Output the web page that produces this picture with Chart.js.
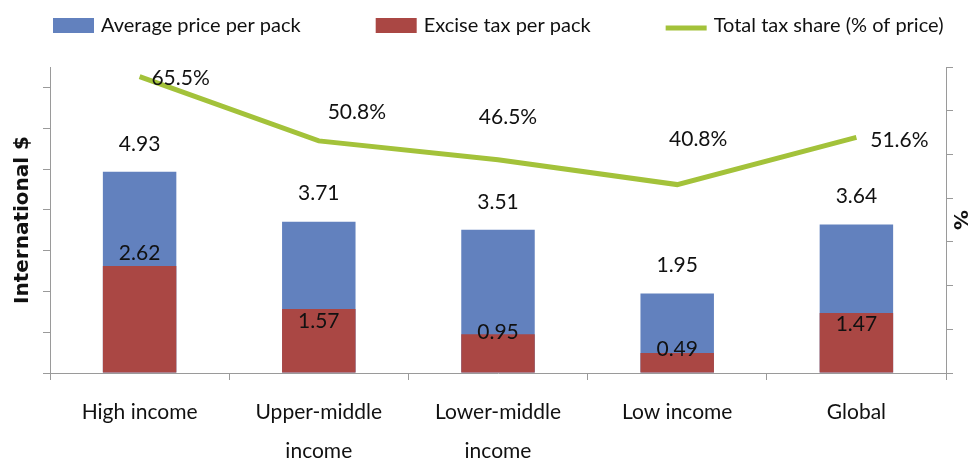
<!DOCTYPE html>
<html>
<head>
<meta charset="utf-8">
<script src="https://cdn.jsdelivr.net/npm/chart.js@4.4.1/dist/chart.umd.min.js"></script>
<style>
  html, body { margin: 0; padding: 0; background: #fff; }
  #wrap { width: 971px; height: 463px; position: relative; }
</style>
</head>
<body>
<div id="wrap"><canvas id="myChart"></canvas></div>
<script>
// data
const categories = [["High income"], ["Upper-middle", "income"], ["Lower-middle", "income"], ["Low income"], ["Global"]];
const avgPrice = [4.93, 3.71, 3.51, 1.95, 3.64];
const exciseTax = [2.62, 1.57, 0.95, 0.49, 1.47];
const taxShare = [65.5, 50.8, 46.5, 40.8, 51.6];

const narrow = 'Lato, "Liberation Sans", sans-serif';
const axisGray = "#9a9a9a";

// hand placed label nudges, like in the original sheet
const redShift = [-13, 12, -2, -4, 11];
const lineShift = [[41, 2], [38, -29], [10, -42], [21, -45], [43, 3]];

const data = {
  labels: categories,
  datasets: [
    {
      type: "line",
      label: "Total tax share (% of price)",
      data: taxShare,
      yAxisID: "y1",
      borderColor: "#a3c23a",
      backgroundColor: "#a3c23a",
      borderWidth: 5,
      pointRadius: 0,
      tension: 0,
      order: 1,
    },
    {
      type: "bar",
      label: "Average price per pack",
      data: avgPrice,
      backgroundColor: "#6281be",
      grouped: false,
      barPercentage: 1,
      categoryPercentage: 0.41,
      order: 3,
    },
    {
      type: "bar",
      label: "Excise tax per pack",
      data: exciseTax,
      backgroundColor: "#aa4744",
      grouped: false,
      barPercentage: 1,
      categoryPercentage: 0.41,
      order: 2,
    },
  ],
};

// value labels
const valueLabels = {
  id: "valueLabels",
  afterDatasetsDraw(chart) {
    const ctx = chart.ctx;
    ctx.save();
    ctx.font = "21px " + narrow;
    ctx.fillStyle = "#111";
    ctx.textAlign = "center";
    ctx.textBaseline = "middle";
    chart.getDatasetMeta(1).data.forEach((bar, i) => {
      ctx.fillText(avgPrice[i].toFixed(2), bar.x, bar.y - 28);
    });
    chart.getDatasetMeta(2).data.forEach((bar, i) => {
      ctx.fillText(exciseTax[i].toFixed(2), bar.x, bar.y + redShift[i]);
    });
    chart.getDatasetMeta(0).data.forEach((pt, i) => {
      ctx.fillText(taxShare[i].toFixed(1) + "%", pt.x + lineShift[i][0], pt.y + lineShift[i][1]);
    });
    ctx.restore();
  },
};

// legend across the top
const topLegend = {
  id: "topLegend",
  afterDraw(chart) {
    const ctx = chart.ctx;
    const order = [1, 2, 0];
    let x = 53;
    const y = 26;
    ctx.save();
    ctx.font = "20px " + narrow;
    ctx.textBaseline = "middle";
    ctx.textAlign = "left";
    order.forEach((di) => {
      const ds = chart.data.datasets[di];
      if (ds.type === "line") {
        ctx.strokeStyle = ds.borderColor;
        ctx.lineWidth = 5;
        ctx.beginPath();
        ctx.moveTo(x, y + 2);
        ctx.lineTo(x + 41, y + 2);
        ctx.stroke();
      } else {
        ctx.fillStyle = ds.backgroundColor;
        ctx.fillRect(x, y - 8, 41, 15);
      }
      ctx.fillStyle = "#111";
      ctx.fillText(ds.label, x + 48, y);
      x += 48 + ctx.measureText(ds.label).width + 75;
    });
    ctx.restore();
  },
};

const config = {
  data,
  options: {
    responsive: true,
    maintainAspectRatio: false,
    animation: false,
    layout: { padding: { top: 67, left: 0, right: 0, bottom: 0 } },
    plugins: {
      legend: { display: false },
      tooltip: { enabled: false },
    },
    scales: {
      x: {
        offset: true,
        grid: {
          display: true,
          offset: true,
          drawOnChartArea: false,
          tickLength: 7,
          color: axisGray,
        },
        border: { color: axisGray },
        ticks: {
          color: "#111",
          padding: 13,
          font: { family: narrow, size: 21, lineHeight: 1.86 },
        },
        afterFit(axis) {
          axis.height = 90;
        },
      },
      y: {
        position: "left",
        min: 0,
        max: 7.5,
        ticks: { display: false, stepSize: 1, includeBounds: false },
        grid: { drawOnChartArea: false, tickLength: 7, color: axisGray },
        border: { color: axisGray },
        title: {
          display: true,
          text: "International $",
          color: "#111",
          font: { family: '"DejaVu Sans", sans-serif', size: 20, weight: "bold" },
          padding: { top: 11, bottom: 0 },
        },
        afterFit(axis) {
          axis.width = 50;
        },
      },
      y1: {
        position: "right",
        min: -2.3,
        max: 67.7,
        ticks: { display: false },
        afterBuildTicks(axis) {
          const t = [];
          for (let i = 0; i <= 7; i++) t.push({ value: axis.min + 10 * i });
          axis.ticks = t;
        },
        grid: { drawOnChartArea: false, tickLength: 7, color: axisGray },
        border: { color: axisGray },
        title: {
          display: true,
          text: "%",
          color: "#111",
          font: { family: '"DejaVu Sans", sans-serif', size: 20, weight: "bold" },
          padding: { top: 0, bottom: 0 },
        },
        afterFit(axis) {
          axis.width = 25;
        },
      },
    },
  },
  plugins: [valueLabels, topLegend],
};

const chartInstance = new Chart(document.getElementById("myChart"), config);
</script>
</body>
</html>
